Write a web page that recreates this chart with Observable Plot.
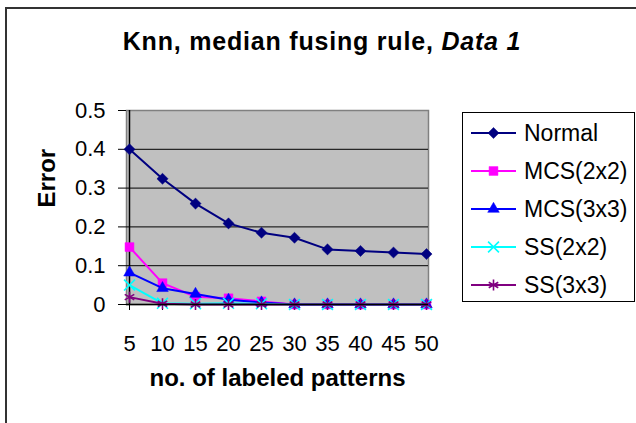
<!DOCTYPE html>
<html>
<head>
<meta charset="utf-8">
<script src="https://cdn.jsdelivr.net/npm/d3@7"></script>
<script src="https://cdn.jsdelivr.net/npm/@observablehq/plot@0.6"></script>
<style>
  html, body { margin: 0; padding: 0; background: #fff; }
  #chart { position: relative; width: 636px; height: 423px; background: #fff; overflow: hidden;
           font-family: "Liberation Sans", Arial, sans-serif; }
  #border { position: absolute; left: 5px; top: 7px; width: 640px; height: 430px;
            border-top: 2px solid #333; border-left: 2px solid #333; box-sizing: border-box; }
  #title { position: absolute; left: 0; width: 644px; top: 29px; text-align: center;
           font-size: 25px; font-weight: bold; line-height: 1; letter-spacing: 0.8px; color: #000; }
  #plot { position: absolute; left: 0; top: 0; }
  #legend { position: absolute; left: 462px; top: 112px; width: 173px; height: 190px;
            border: 1px solid #000; box-sizing: border-box; background: #fff; padding-top: 1px; }
  .row { height: 38px; display: flex; align-items: center; }
  .row svg { flex: none; }
  .row span { font-size: 23px; margin-left: 1px; color: #000; }
</style>
</head>
<body>
<div id="chart">
  <div id="border"></div>
  <div id="title">Knn, median fusing rule, <i>Data 1</i></div>
  <div id="plot"></div>
  <div id="legend"></div>
</div>
<script>
// ---- data ----
const categories = [5, 10, 15, 20, 25, 30, 35, 40, 45, 50];
const seriesNames = ["Normal", "MCS(2x2)", "MCS(3x3)", "SS(2x2)", "SS(3x3)"];
const normal = [0.400, 0.324, 0.260, 0.209, 0.185, 0.172, 0.142, 0.138, 0.134, 0.130];
const mcs2x2 = [0.148, 0.055, 0.020, 0.016, 0.008, 0, 0, 0, 0, 0];
const mcs3x3 = [0.082, 0.042, 0.027, 0.012, 0.005, 0, 0, 0, 0, 0];
const ss2x2  = [0.050, 0.003, 0.002, 0.003, 0.002, 0, 0, 0, 0, 0];
const ss3x3  = [0.019, 0.002, 0, 0, 0, 0, 0, 0, 0, 0];
const yTicks = [0, 0.1, 0.2, 0.3, 0.4, 0.5];
const yTickLabels = ["0", "0.1", "0.2", "0.3", "0.4", "0.5"];
const colors = ["#000080", "#ff00ff", "#0000ff", "#00ffff", "#800080"];
const symbols = ["diamond2", "square", "triangle", "times", "asterisk"];
const d3symbols = [d3.symbolDiamond2, d3.symbolSquare, d3.symbolTriangle, d3.symbolTimes, d3.symbolAsterisk];
const filled = [true, true, true, false, false];
const radii = [5, 5, 4.3, 5, 5.2];
const values = [normal, mcs2x2, mcs3x3, ss2x2, ss3x3];

const tables = values.map((vals, s) => vals.map((v, i) => ({x: categories[i], y: v, series: seriesNames[s]})));

const seriesMarks = tables.flatMap((rows, s) => [
  Plot.line(rows, {x: "x", y: "y", stroke: colors[s], strokeWidth: 2}),
  Plot.dot(rows, filled[s]
    ? {x: "x", y: "y", symbol: () => symbols[s], fill: colors[s], stroke: colors[s], strokeWidth: 0.5, r: radii[s]}
    : {x: "x", y: "y", symbol: () => symbols[s], stroke: colors[s], strokeWidth: 1.6, r: radii[s]})
]);

const chart = Plot.plot({
  width: 636,
  height: 423,
  marginLeft: 126,
  marginRight: 208,
  marginTop: 110,
  marginBottom: 119,
  style: {fontFamily: "'Liberation Sans', Arial, sans-serif", fontSize: "22px", background: "transparent", color: "#000"},
  x: {type: "point", domain: categories, padding: 0},
  y: {domain: [0, 0.5]},
  symbol: {type: "identity"},
  marks: [
    Plot.frame({fill: "#c0c0c0", stroke: "#808080", strokeWidth: 1.5}),
    Plot.gridY(yTicks.slice(1, -1), {stroke: "#000", strokeOpacity: 1, strokeWidth: 1}),
    Plot.axisY({ticks: yTicks, tickFormat: (d, i) => yTickLabels[yTicks.indexOf(d)], tickSize: 8, tickPadding: 13, label: null, fontSize: 22, stroke: "#000"}),
    Plot.axisX({tickSize: 6, tickPadding: 25, label: null, fontSize: 22, stroke: "#000"}),
    Plot.ruleX([categories[0]], {stroke: "#000", strokeWidth: 1.5}),
    ...seriesMarks,
    Plot.ruleY([0], {stroke: "#000", strokeWidth: 1.5}),
    Plot.text(["Error"], {text: d => d, frameAnchor: "left", dx: -79, rotate: -90, fontWeight: "bold", fontSize: 24, fill: "#000"}),
    Plot.text(["no. of labeled patterns"], {text: d => d, frameAnchor: "bottom", dy: 81, fontWeight: "bold", fontSize: 24, fill: "#000"})
  ]
});
document.getElementById("plot").appendChild(chart);

// ---- legend ----
const legend = d3.select("#legend");
seriesNames.forEach((name, s) => {
  const row = legend.append("div").attr("class", "row");
  const svg = row.append("svg").attr("width", 60).attr("height", 38);
  svg.append("line").attr("x1", 8).attr("x2", 53).attr("y1", 19).attr("y2", 19)
    .attr("stroke", colors[s]).attr("stroke-width", 2);
  const path = d3.symbol(d3symbols[s], Math.PI * radii[s] * radii[s])();
  const p = svg.append("path").attr("d", path).attr("transform", "translate(30.5,19)");
  if (filled[s]) p.attr("fill", colors[s]).attr("stroke", colors[s]).attr("stroke-width", 0.5);
  else p.attr("fill", "none").attr("stroke", colors[s]).attr("stroke-width", 1.6);
  row.append("span").text(name);
});
</script>
</body>
</html>
